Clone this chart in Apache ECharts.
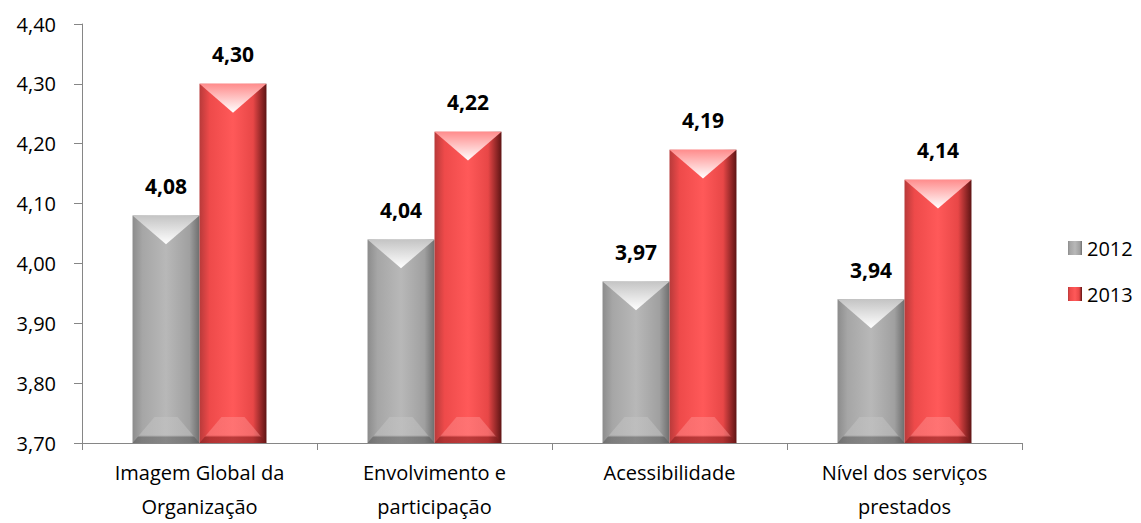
<!DOCTYPE html>
<html>
<head>
<meta charset="utf-8">
<script src="https://cdn.jsdelivr.net/npm/echarts@6/dist/echarts.min.js"></script>
<style>
  html, body { margin: 0; padding: 0; background: #fff; }
  #chart { width: 1141px; height: 523px; }
</style>
</head>
<body>
<div id="chart"></div>
<script>
// dados
const categories = ['Imagem Global da\nOrganização', 'Envolvimento e\nparticipação', 'Acessibilidade', 'Nível dos serviços\nprestados'];
const values2012 = [4.08, 4.04, 3.97, 3.94];
const values2013 = [4.30, 4.22, 4.19, 4.14];
const yMin = 3.70;
const yMax = 4.40;
const yStep = 0.10;

const barShare = 0.285;
const fmt = v => v.toFixed(2).replace('.', ',');

function hGrad(stops) {
    return new echarts.graphic.LinearGradient(0, 0, 1, 0, stops.map(c => ({ offset: c[0], color: c[1] })));
}

const grayFill = hGrad([[0, '#8c8c8c'], [0.15, '#a6a6a6'], [0.5, '#b8b8b8'], [0.85, '#a0a0a0'], [1, '#6e6e6e']]);
const redFill = hGrad([[0, '#b83a3a'], [0.15, '#ee4a4a'], [0.5, '#ff5959'], [0.8, '#e84747'], [1, '#5e1414']]);

// bisel (topo e base) desenhado sobre as barras
function bevel(side, light, dark) {
    return function (params, api) {
        const i = api.value(0), v = api.value(1);
        const top = api.coord([i, v]);
        const bot = api.coord([i, yMin]);
        const bw = api.size([1, 0])[0] * barShare;
        const x0 = top[0] + (side === 0 ? -bw : 0);
        const x1 = x0 + bw;
        const xc = (x0 + x1) / 2;
        const yT = top[1], yB = bot[1];
        const d = bw * 0.43;
        const h = 26;
        return {
            type: 'group',
            children: [
                {
                    type: 'polygon',
                    shape: { points: [[x0, yT], [x1, yT], [xc, yT + d]] },
                    style: {
                        fill: new echarts.graphic.LinearGradient(0, 0, 0, 1, [
                            { offset: 0, color: light }, { offset: 1, color: '#ffffff' }
                        ])
                    }
                },
                {
                    type: 'polygon',
                    shape: { points: [[x0, yB], [x0 + 22, yB - h], [x1 - 22, yB - h], [x1, yB]] },
                    style: {
                        fill: new echarts.graphic.LinearGradient(0, 0, 0, 1, [
                            { offset: 0, color: light }, { offset: 0.7, color: light }, { offset: 0.78, color: dark }, { offset: 1, color: dark }
                        ]),
                        opacity: 0.5
                    }
                }
            ]
        };
    };
}

const chart = echarts.init(document.getElementById('chart'), null, { renderer: 'svg' });
const labelCfg = {
    show: true,
    position: 'top',
    distance: 19,
    fontSize: 21,
    fontWeight: 'bold',
    color: '#000',
    fontFamily: 'Open Sans',
    formatter: p => fmt(p.value)
};
chart.setOption({
    animation: false,
    backgroundColor: '#fff',
    textStyle: { fontFamily: 'Open Sans' },
    grid: { left: 82, right: 119, top: 24, bottom: 80 },
    legend: {
        data: [
            { name: '2012', itemStyle: { color: grayFill } },
            { name: '2013', itemStyle: { color: redFill } }
        ],
        orient: 'vertical',
        left: 1063,
        top: 233,
        itemGap: 26,
        itemWidth: 14,
        itemHeight: 14,
        itemStyle: { borderWidth: 0 },
        icon: 'rect',
        textStyle: { fontSize: 20, color: '#000', fontFamily: 'Open Sans' }
    },
    xAxis: {
        type: 'category',
        data: categories,
        axisLine: { lineStyle: { color: '#868686' } },
        axisTick: { show: true, length: 7, lineStyle: { color: '#868686' } },
        axisLabel: { fontSize: 20, color: '#000', lineHeight: 34, margin: 12, interval: 0 }
    },
    yAxis: {
        type: 'value',
        min: yMin,
        max: yMax,
        interval: yStep,
        splitLine: { show: false },
        axisLine: { show: true, lineStyle: { color: '#868686' } },
        axisTick: { show: true, length: 8, lineStyle: { color: '#868686' } },
        axisLabel: { fontSize: 20, color: '#000', margin: 26, formatter: v => fmt(v) }
    },
    series: [
        {
            name: '2012',
            type: 'bar',
            data: values2012,
            barWidth: (barShare * 100) + '%',
            barGap: '0%',
            itemStyle: { color: grayFill },
            label: labelCfg
        },
        {
            name: '2013',
            type: 'bar',
            data: values2013,
            barWidth: (barShare * 100) + '%',
            barGap: '0%',
            itemStyle: { color: redFill },
            label: labelCfg
        },
        {
            name: 'bisel2012',
            type: 'custom',
            z: 3,
            silent: true,
            renderItem: bevel(0, '#c4c4c4', '#555555'),
            data: values2012.map((v, i) => [i, v])
        },
        {
            name: 'bisel2013',
            type: 'custom',
            z: 3,
            silent: true,
            renderItem: bevel(1, '#ff8c8c', '#7a1c1c'),
            data: values2013.map((v, i) => [i, v])
        }
    ]
});
</script>
</body>
</html>
